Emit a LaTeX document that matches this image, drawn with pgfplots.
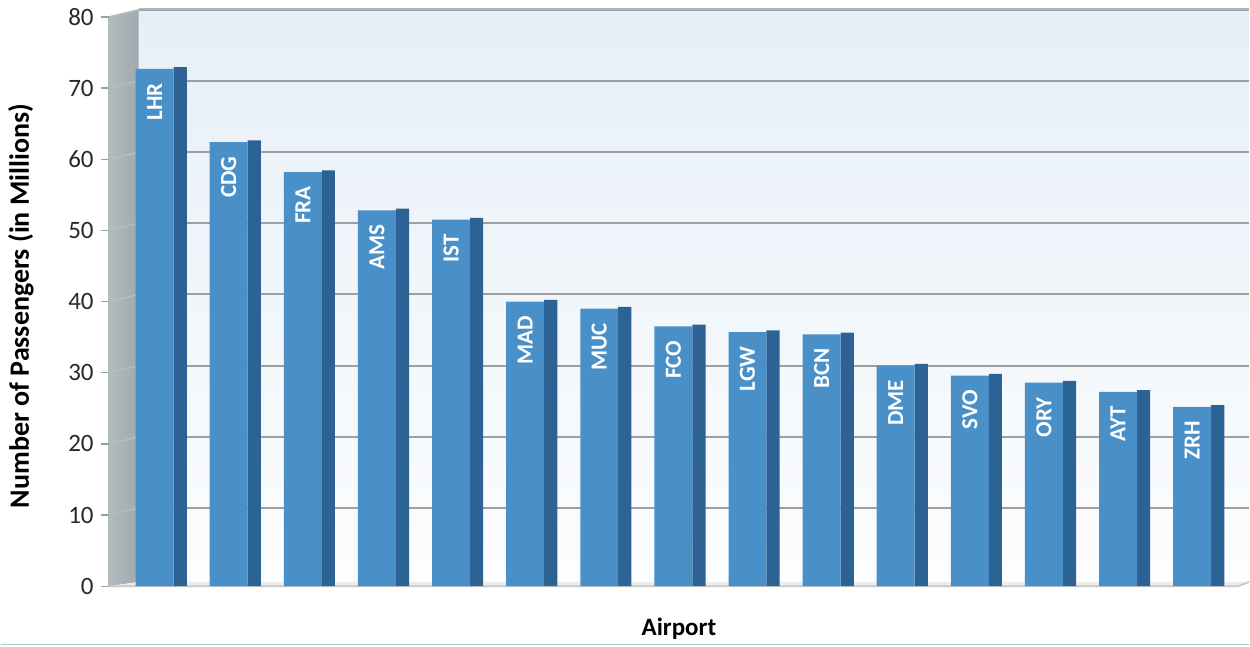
\documentclass[border=0pt]{standalone}
\usepackage{pgfplots}
\pgfplotsset{compat=1.18}
\usepackage{pgfplotstable}
\usepackage{fontspec}
\setmainfont{Carlito}
\definecolor{barfront}{RGB}{74,144,200}
\definecolor{barside}{RGB}{44,98,148}
\definecolor{walltop}{RGB}{230,239,247}
\definecolor{wallbot}{RGB}{252,253,254}
\definecolor{sidewall}{RGB}{158,170,174}
\definecolor{gridc}{RGB}{155,160,160}
\definecolor{ticktext}{RGB}{40,40,40}
\definecolor{borderc}{RGB}{175,200,210}

\pgfplotstableread{
x label y
0 LHR 72.7
1 CDG 62.4
2 FRA 58.2
3 AMS 52.8
4 IST 51.5
5 MAD 40.0
6 MUC 39.0
7 FCO 36.5
8 LGW 35.7
9 BCN 35.4
10 DME 31.0
11 SVO 29.6
12 ORY 28.6
13 AYT 27.3
14 ZRH 25.2
}\datatable

\begin{document}
\begin{tikzpicture}
\begin{axis}[
  set layers,
  scale only axis,
  width=571pt, height=289.3pt,
  xmin=-0.62, xmax=14.77,
  ymin=0, ymax=81.2,
  axis line style={draw=none},
  xtick=\empty,
  ytick={0,10,...,80},
  ytick pos=left,
  tick align=outside,
  major tick length=4pt,
  tick style={gridc, line width=0.6pt},
  /pgf/number format/assume math mode=true,
  yticklabel style={font=\fontsize{12.5}{14}\selectfont, text=ticktext, xshift=0pt},
  every axis y label/.style={at={(axis description cs:0,0.485)}, xshift=-44pt, rotate=90, anchor=center, font=\fontsize{14}{16}\selectfont\bfseries},
  every axis x label/.style={at={(axis description cs:0.5,0)}, yshift=-21.5pt, anchor=center, font=\fontsize{12.5}{14}\selectfont\bfseries},
  ylabel={Number of Passengers (in Millions)},
  xlabel={Airport},
  clip=false,
  ybar,
]
\begin{pgfonlayer}{axis background}
  \shade[top color=walltop, bottom color=wallbot] (axis cs:-0.216,0.6) rectangle (axis cs:14.77,81.1);
  \shade[left color=sidewall!80!white, right color=sidewall] (axis cs:-0.62,0) -- (axis cs:-0.216,0.6) -- (axis cs:-0.216,81.1) -- (axis cs:-0.62,80) -- cycle;
  \fill[gray!15] (axis cs:-0.62,0) -- (axis cs:14.62,0) -- (axis cs:14.77,0.6) -- (axis cs:-0.216,0.6) -- cycle;
  \draw[gray!45, line width=0.8pt] (axis cs:-0.62,0) -- (axis cs:14.62,0) -- (axis cs:14.77,0.6);
  \pgfplotsinvokeforeach{10,20,...,80}{
    \draw[gridc, line width=1pt] (axis cs:-0.216,#1+1.0) -- (axis cs:14.77,#1+1.0);
    \draw[gridc!70, line width=0.7pt] (axis cs:-0.62,#1) -- (axis cs:-0.216,#1+1.0);
  }
  \draw[gridc!80, line width=0.8pt] (axis cs:-0.216,81.1) -- (axis cs:14.77,81.1);
\end{pgfonlayer}
\addplot[ybar, bar width=6.6pt, bar shift=12.8pt, fill=barside, draw=none] table[x=x, y expr=\thisrow{y}+0.25] {\datatable};
\addplot[ybar, bar width=19pt, bar shift=0pt, fill=barfront, draw=none,
  point meta=explicit symbolic,
  nodes near coords,
  every node near coord/.append style={yshift=-7pt, rotate=90, anchor=east, inner sep=0pt, text=white, font=\fontsize{11.5}{13}\selectfont\bfseries},
] table[x=x, y=y, meta=label] {\datatable};
\coordinate (bl) at (rel axis cs:0,0);
\coordinate (tr) at (rel axis cs:1,1);
\end{axis}
\pgfresetboundingbox
\path ([xshift=-54pt,yshift=-30pt]bl) rectangle ([yshift=4.2pt]tr);
\draw[borderc, line width=0.8pt] ([xshift=-54pt,yshift=-29.2pt]bl) -- ([yshift=-29.2pt]bl -| tr);
\end{tikzpicture}
\end{document}
